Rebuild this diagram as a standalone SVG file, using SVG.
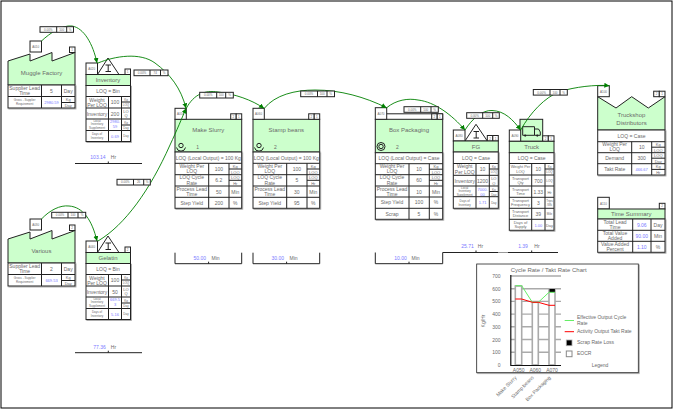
<svg xmlns="http://www.w3.org/2000/svg" width="673" height="409" viewBox="0 0 673 409">
<style>
text{font-family:"Liberation Sans",Arial,sans-serif;fill:#6a6a6a;font-size:5px;text-anchor:middle}
.n{font-size:6px}.s{font-size:4px}.x{font-size:3px}
.l{text-anchor:start}.e{text-anchor:end}
.v{fill:#7a7aff}
.b{fill:#fff;stroke:#222;stroke-width:1}
.h{fill:#ccffcc;stroke:#222;stroke-width:1}
.g{fill:none;stroke:#222;stroke-width:1}
.k{fill:none;stroke:#111;stroke-width:1.2}
.c{fill:none;stroke:#008000;stroke-width:0.9;marker-end:url(#a)}
.cn{fill:none;stroke:#008000;stroke-width:0.9}
.gr{fill:none;stroke:#aaa;stroke-width:1.4}
.bar{fill:#fff;stroke:#aaa;stroke-width:1.6}
</style>
<defs>
<marker id="a" markerUnits="userSpaceOnUse" markerWidth="6" markerHeight="6" refX="5" refY="2.5" orient="auto"><path d="M0,0 L5,2.5 L0,5 Z" fill="#008000"/></marker>
<filter id="sh" x="-5%" y="-5%" width="110%" height="110%"><feDropShadow dx="0.8" dy="0.8" stdDeviation="0" flood-color="#999"/></filter>
</defs>
<rect x="0" y="0" width="673" height="409" fill="#fff"/>
<rect x="1" y="1" width="671" height="407" fill="none" stroke="#000" stroke-width="1"/>

<g id="muggle-factory">
<polygon class="h" points="8,61 30,54 30,61 52,52.5 52,61 75,52.5 75,85 8,85"/>
<rect class="b" x="30" y="41" width="11.5" height="11"/><text class="x" x="35.7" y="47.5">A010</text>
<rect class="b" x="69.5" y="47" width="5.5" height="5.5"/><text class="x" x="72.2" y="51">1</text>
<text class="n" x="41.5" y="75">Muggle Factory</text>
<rect class="b" x="8" y="85" width="67" height="23" filter="url(#sh)"/>
<path class="g" d="M8,96.5H75M41.5,85V108M61.5,85V108M61.5,102.5H75"/>
<text x="24.7" y="90">Supplier Lead</text><text x="24.7" y="95">Time</text>
<text x="51.5" y="92.5">5</text><text x="68.2" y="92.5">Day</text>
<text class="x" x="24.7" y="100.5">Gross - Supplier</text><text class="x" x="24.7" y="104.5">Requirement</text>
<text class="s v" x="51.5" y="103.5">2980.59</text>
<text class="s" x="68.2" y="101">Kg</text><text class="s" x="68.2" y="107">Day</text>
</g>

<g id="inventory">
<polygon class="b" points="108,58 97.5,74.5 119,74.5"/>
<path d="M105.5,65H111M108.2,65V71.5M105.5,71.5H111" fill="none" stroke="#222" stroke-width="1"/>
<rect class="b" x="86" y="63" width="11.5" height="11.5"/><text class="x" x="91.7" y="70">A020</text>
<rect class="b" x="125" y="69" width="5.5" height="5.5"/><text class="x" x="127.7" y="73">1</text>
<rect class="h" x="86" y="74.5" width="44.5" height="11"/><text class="n" x="108" y="82">Inventory</text>
<rect class="b" x="86" y="85.5" width="44.5" height="56" filter="url(#sh)"/>
<path class="g" d="M86,96.5H130.5M86,108H130.5M86,119H130.5M86,130.5H130.5M108.5,96.5V141.5M121.5,96.5V141.5M121.5,102H130.5M121.5,125H130.5"/>
<text x="108" y="93">LOQ = Bin</text>
<text x="97" y="101.5">Weight</text><text x="97" y="106.5">Per LOQ</text>
<text x="115" y="104">100</text><text class="x" x="126" y="101">Kg</text><text class="x" x="126" y="106">LOQ</text>
<text x="97" y="115.5">Inventory</text><text x="115" y="115.5">200</text><text class="s" x="126" y="112.5">LO</text><text class="s" x="126" y="117">Q</text>
<text class="x" x="97" y="122">Local</text><text class="x" x="97" y="125">Inventory</text><text class="x" x="97" y="128.5">Supplement</text>
<text class="s v" x="115" y="123">2980.</text><text class="s v" x="115" y="128">59</text>
<text class="x" x="126" y="123.5">Kg</text><text class="x" x="126" y="129">Day</text>
<text class="x" x="97" y="135">Days of</text><text class="x" x="97" y="139">Inventory</text>
<text class="s v" x="115" y="137.5">0.69</text><text class="x" x="126" y="137">Day</text>
</g>

<g id="various">
<polygon class="h" points="8,239 30,232 30,239 52,230.5 52,239 75,230.5 75,263 8,263"/>
<rect class="b" x="30" y="219" width="11.5" height="11"/><text class="x" x="35.7" y="225.5">A030</text>
<rect class="b" x="69.5" y="225" width="5.5" height="5.5"/><text class="x" x="72.2" y="229">2</text>
<text class="n" x="41.5" y="253">Various</text>
<rect class="b" x="8" y="263" width="67" height="23" filter="url(#sh)"/>
<path class="g" d="M8,274.5H75M41.5,263V286M61.5,263V286M61.5,280.5H75"/>
<text x="24.7" y="268">Supplier Lead</text><text x="24.7" y="273">Time</text>
<text x="51.5" y="270.5">2</text><text x="68.2" y="270.5">Day</text>
<text class="x" x="24.7" y="278.5">Gross - Supplier</text><text class="x" x="24.7" y="282.5">Requirement</text>
<text class="s v" x="51.5" y="281.5">669.53</text>
<text class="s" x="68.2" y="279">Kg</text><text class="s" x="68.2" y="285">Day</text>
</g>

<g id="gelatin">
<polygon class="b" points="108,236 97.5,252.5 119,252.5"/>
<path d="M105.5,243H111M108.2,243V249.5M105.5,249.5H111" fill="none" stroke="#222" stroke-width="1"/>
<rect class="b" x="86" y="241" width="11.5" height="11.5"/><text class="x" x="91.7" y="248">A040</text>
<rect class="b" x="125" y="247" width="5.5" height="5.5"/><text class="x" x="127.7" y="251">2</text>
<rect class="h" x="86" y="252.5" width="44.5" height="11"/><text class="n" x="108" y="260">Gelatin</text>
<rect class="b" x="86" y="263.5" width="44.5" height="56" filter="url(#sh)"/>
<path class="g" d="M86,274.5H130.5M86,286H130.5M86,297H130.5M86,308.5H130.5M108.5,274.5V319.5M121.5,274.5V319.5M121.5,280H130.5M121.5,303H130.5"/>
<text x="108" y="271">LOQ = Bin</text>
<text x="97" y="279.5">Weight</text><text x="97" y="284.5">Per LOQ</text>
<text x="115" y="282">100</text><text class="x" x="126" y="279">Kg</text><text class="x" x="126" y="284">LOQ</text>
<text x="97" y="293.5">Inventory</text><text x="115" y="293.5">50</text><text class="s" x="126" y="290.5">LO</text><text class="s" x="126" y="295">Q</text>
<text class="x" x="97" y="300">Local</text><text class="x" x="97" y="303">Inventory</text><text class="x" x="97" y="306.5">Supplement</text>
<text class="s v" x="115" y="301">669.5</text><text class="s v" x="115" y="306">3</text>
<text class="x" x="126" y="301.5">Kg</text><text class="x" x="126" y="307">Day</text>
<text class="x" x="97" y="313">Days of</text><text class="x" x="97" y="317">Inventory</text>
<text class="s v" x="115" y="315.5">5.16</text><text class="x" x="126" y="315">Day</text>
</g>

<g id="make-slurry">
<rect class="h" x="175" y="119.3" width="66.7" height="32.7"/>
<rect class="b" x="175" y="108.3" width="11.3" height="11"/><text class="x" x="180.6" y="115">A050</text>
<rect class="b" x="230.7" y="113.8" width="5.5" height="5.5"/><text class="x" x="233.4" y="117.8">2</text>
<rect class="b" x="236.2" y="113.8" width="5.5" height="5.5"/><text class="x" x="238.9" y="117.8">1</text>
<text class="n" x="208.3" y="132">Make Slurry</text>
<circle class="g" cx="181" cy="145.5" r="2.2"/><path class="g" d="M176.5,147.5A4.6,4.6 0 0 0 185.5,147.5"/>
<text x="197.7" y="149">1</text>
<rect class="b" x="175" y="152" width="66.7" height="56.3" filter="url(#sh)"/>
<path class="g" d="M175,163.3H241.7M175,174.7H241.7M175,186H241.7M175,197.3H241.7M208.7,163.3V208.3M229,163.3V208.3M229,169H241.7M229,180.3H241.7"/>
<text x="208.3" y="159.5">LOQ (Local Output) = 100 Kg</text>
<text x="191.8" y="168">Weight Per</text><text x="191.8" y="173.2">LOQ</text><text x="218.8" y="170.8">100</text><text class="s" x="235.3" y="168">Kg</text><text class="s" x="235.3" y="173.5">LOQ</text>
<text x="191.8" y="179.4">LOQ Cycle</text><text x="191.8" y="184.6">Rate</text><text x="218.8" y="182.2">6.2</text><text class="s" x="235.3" y="179">LOQ</text><text class="s" x="235.3" y="185">Hr</text>
<text x="191.8" y="190.7">Process Lead</text><text x="191.8" y="195.9">Time</text><text x="218.8" y="193.5">50</text><text x="235.3" y="193.5">Min</text>
<text x="191.8" y="204.7">Step Yield</text><text x="218.8" y="204.7">200</text><text x="235.3" y="204.7">%</text>
</g>

<g id="stamp-beans">
<rect class="h" x="253" y="119.3" width="66.7" height="32.7"/>
<rect class="b" x="253" y="108.3" width="11.3" height="11"/><text class="x" x="258.6" y="115">A060</text>
<rect class="b" x="308.7" y="113.8" width="5.5" height="5.5"/><text class="x" x="311.4" y="117.8">2</text>
<rect class="b" x="314.2" y="113.8" width="5.5" height="5.5"/><text class="x" x="316.9" y="117.8">1</text>
<text class="n" x="286.3" y="132">Stamp beans</text>
<circle class="g" cx="259" cy="145.5" r="2.2"/><path class="g" d="M254.5,147.5A4.6,4.6 0 0 0 263.5,147.5"/>
<text x="275.5" y="149">2</text>
<rect class="b" x="253" y="152" width="66.7" height="56.3" filter="url(#sh)"/>
<path class="g" d="M253,163.3H319.7M253,174.7H319.7M253,186H319.7M253,197.3H319.7M286.7,163.3V208.3M307,163.3V208.3M307,169H319.7M307,180.3H319.7"/>
<text x="286.3" y="159.5">LOQ (Local Output) = 100 Kg</text>
<text x="269.8" y="168">Weight Per</text><text x="269.8" y="173.2">LOQ</text><text x="296.8" y="170.8">100</text><text class="s" x="313.3" y="168">Kg</text><text class="s" x="313.3" y="173.5">LOQ</text>
<text x="269.8" y="179.4">LOQ Cycle</text><text x="269.8" y="184.6">Rate</text><text x="296.8" y="182.2">5</text><text class="s" x="313.3" y="179">LOQ</text><text class="s" x="313.3" y="185">Hr</text>
<text x="269.8" y="190.7">Process Lead</text><text x="269.8" y="195.9">Time</text><text x="296.8" y="193.5">30</text><text x="313.3" y="193.5">Min</text>
<text x="269.8" y="204.7">Step Yield</text><text x="296.8" y="204.7">95</text><text x="313.3" y="204.7">%</text>
</g>

<g id="box-packaging">
<path class="g" d="M386.7,113.8H442.7V119.3"/>
<rect class="h" x="375.3" y="119.3" width="67.4" height="33.4"/>
<rect class="b" x="375.3" y="107.7" width="11.4" height="11.6"/><text class="x" x="381" y="114.7">A070</text>
<rect class="b" x="431.7" y="113.8" width="5.5" height="5.5"/><text class="x" x="434.4" y="117.8">2</text>
<rect class="b" x="437.2" y="113.8" width="5.5" height="5.5"/><text class="x" x="439.9" y="117.8">1</text>
<text class="n" x="409" y="131.5">Box Packaging</text>
<circle class="g" cx="381" cy="146.5" r="2.2"/><circle class="g" cx="381" cy="146.5" r="4"/>
<text x="397.5" y="149">2</text>
<rect class="b" x="375.3" y="152.7" width="67.4" height="66.6" filter="url(#sh)"/>
<path class="g" d="M375.3,163.7H442.7M375.3,174.7H442.7M375.3,186H442.7M375.3,197H442.7M375.3,208.3H442.7M409,163.7V219.3M429.3,163.7V219.3M429.3,169.2H442.7M429.3,180.3H442.7"/>
<text x="409" y="159.8">LOQ (Local Output) = Case</text>
<text x="392" y="168">Weight Per</text><text x="392" y="173.2">LOQ</text><text x="419" y="170.8">10</text><text class="s" x="436" y="168">Kg</text><text class="s" x="436" y="173.5">LOQ</text>
<text x="392" y="179.4">LOQ Cycle</text><text x="392" y="184.6">Rate</text><text x="419" y="182.2">60</text><text class="s" x="436" y="179">LOQ</text><text class="s" x="436" y="185">Hr</text>
<text x="392" y="190.7">Process Lead</text><text x="392" y="195.9">Time</text><text x="419" y="193.5">10</text><text x="436" y="193.5">Min</text>
<text x="392" y="204">Step Yield</text><text x="419" y="204">100</text><text x="436" y="204">%</text>
<text x="392" y="215.5">Scrap</text><text x="419" y="215.5">5</text><text x="436" y="215.5">%</text>
</g>

<g id="fg">
<polygon class="b" points="476,124.3 465,141 487.3,141"/>
<path d="M473.5,131.5H479M476.2,131.5V138M473.5,138H479" fill="none" stroke="#222" stroke-width="1"/>
<rect class="b" x="453.3" y="130" width="11.7" height="11"/><text class="x" x="459.1" y="137">A080</text>
<rect class="b" x="487.3" y="135.5" width="5.5" height="5.5"/><text class="x" x="490" y="139.5">2</text>
<rect class="b" x="492.8" y="135.5" width="5.5" height="5.5"/><text class="x" x="495.5" y="139.5">1</text>
<rect class="h" x="453.3" y="141" width="45" height="11"/><text class="n" x="476" y="148.5">FG</text>
<rect class="b" x="453.3" y="152" width="45" height="56.3" filter="url(#sh)"/>
<path class="g" d="M453.3,163.5H498.3M453.3,175.3H498.3M453.3,186H498.3M453.3,196.7H498.3M476,163.5V208.3M489.3,163.5V208.3M489.3,169H498.3M489.3,191.5H498.3"/>
<text x="476" y="159.5">LOQ = Case</text>
<text x="464.7" y="168.3">Weight</text><text x="464.7" y="173.5">Per LOQ</text><text x="482.6" y="171">10</text><text class="x" x="493.8" y="168">Kg</text><text class="x" x="493.8" y="173">LOQ</text>
<text x="464.7" y="182.5">Inventory</text><text x="482.6" y="182.5">1200</text><text class="s" x="493.8" y="179.5">LO</text><text class="s" x="493.8" y="184.5">Q</text>
<text class="x" x="464.7" y="189">Local</text><text class="x" x="464.7" y="192">Inventory</text><text class="x" x="464.7" y="195.5">Supplement</text>
<text class="s v" x="482.6" y="190.5">7000.</text><text class="s v" x="482.6" y="195.5">00</text>
<text class="x" x="493.8" y="190.5">Kg</text><text class="x" x="493.8" y="196">Day</text>
<text class="x" x="464.7" y="201.5">Days of</text><text class="x" x="464.7" y="205.5">Inventory</text>
<text class="s v" x="482.6" y="204">1.71</text><text class="x" x="493.8" y="204">Day</text>
</g>

<g id="truck">
<rect class="h" x="520" y="119.3" width="22.7" height="22"/>
<path d="M522.7,126.7H534.5V135.3H522.7ZM534.5,129H538.5L540.3,132V135.3H534.5" fill="none" stroke="#222" stroke-width="1"/>
<circle cx="525.2" cy="135.6" r="1.1" fill="#222"/><circle cx="537.3" cy="135.6" r="1.1" fill="#222"/>
<rect class="b" x="509.3" y="130" width="11.4" height="11.3"/><text class="x" x="515" y="137">A090</text>
<rect class="b" x="542.7" y="135.8" width="5.6" height="5.5"/><text class="x" x="545.5" y="139.8">2</text>
<rect class="b" x="548.3" y="135.8" width="5.7" height="5.5"/><text class="x" x="551.1" y="139.8">1</text>
<rect class="h" x="509.3" y="141.3" width="44.7" height="11.4"/><text class="n" x="531.7" y="149">Truck</text>
<rect class="b" x="509.3" y="152.7" width="44.7" height="77.6" filter="url(#sh)"/>
<path class="g" d="M509.3,163.5H554M509.3,175H554M509.3,186H554M509.3,197.3H554M509.3,208.3H554M509.3,219.3H554M531.7,163.5V230.3M545,163.5V230.3M545,169H554"/>
<text x="531.7" y="160">LOQ = Case</text>
<text class="s" x="520.5" y="168">Weight Per</text><text class="s" x="520.5" y="172.5">LOQ</text><text x="538.3" y="171">10</text><text class="x" x="549.5" y="168">Kg</text><text class="x" x="549.5" y="173">LOQ</text>
<text class="s" x="520.5" y="179.5">Transport</text><text class="s" x="520.5" y="184">Qty</text><text x="538.3" y="182.5">700</text><text class="x" x="549.5" y="182">LOQ</text>
<text class="s" x="520.5" y="190.5">Transport</text><text class="s" x="520.5" y="195">Time</text><text x="538.3" y="193.5">1.33</text><text class="s" x="549.5" y="193.5">Hr</text>
<text class="s" x="520.5" y="201.5">Transport</text><text class="s" x="520.5" y="206">Frequency</text><text x="538.3" y="204.5">3</text><text class="x" x="549.5" y="202">Trips</text><text class="x" x="549.5" y="206">/Wk</text>
<text class="s" x="520.5" y="212.5">Transport</text><text class="s" x="520.5" y="217">Distance</text><text x="538.3" y="215.5">39</text><text class="x" x="549.5" y="215">Mile</text>
<text class="s" x="520.5" y="223.5">Days of</text><text class="s" x="520.5" y="228">Supply</text><text class="s v" x="538.3" y="226.5">1.00</text><text class="s" x="549.5" y="226.5">Day</text>
</g>

<g id="truckshop-distributors">
<polygon class="h" points="597.7,96.7 616,108 631.7,96.7 648.3,108 665,96.7 665,130 597.7,130"/>
<rect class="b" x="597.7" y="85.7" width="11.6" height="11"/><text class="x" x="603.5" y="92.5">A100</text>
<rect class="b" x="653.7" y="91.2" width="5.6" height="5.5"/><text class="x" x="656.5" y="95.2">2</text>
<rect class="b" x="659.3" y="91.2" width="5.7" height="5.5"/><text class="x" x="662.1" y="95.2">1</text>
<text class="n" x="631.5" y="116.5">Truckshop</text><text class="n" x="631.5" y="124.5">Distributors</text>
<rect class="b" x="597.7" y="130" width="67.3" height="45" filter="url(#sh)"/>
<path class="g" d="M597.7,141.7H665M597.7,152.7H665M597.7,163.7H665M631.7,141.7V175M651.7,141.7V175M651.7,147.2H665M651.7,158.2H665M651.7,169.4H665"/>
<text x="631.5" y="137.5">LOQ = Case</text>
<text x="614.7" y="146.2">Weight Per</text><text x="614.7" y="151.4">LOQ</text><text x="641.7" y="149">10</text><text class="s" x="658.3" y="146">Kg</text><text class="s" x="658.3" y="151.5">LOQ</text>
<text x="614.7" y="159.8">Demand</text><text x="641.7" y="159.8">300</text><text class="s" x="658.3" y="157">LOQ</text><text class="s" x="658.3" y="162.5">Day</text>
<text x="614.7" y="171">Takt Rate</text><text class="s v" x="641.7" y="170.8">466.67</text><text class="s" x="658.3" y="168">Kg</text><text class="s" x="658.3" y="173.8">Hr</text>
</g>

<g id="time-summary">
<rect class="b" x="597.7" y="197.3" width="11.6" height="11.7"/><text class="x" x="603.5" y="204.5">A110</text>
<rect class="b" x="659.3" y="203.3" width="5.7" height="5.7"/><text class="x" x="662.1" y="207.3">2</text>
<rect class="h" x="597.7" y="209" width="67.3" height="10"/><text class="n" x="631.3" y="216">Time Summary</text>
<rect class="b" x="597.7" y="219" width="67.3" height="33.3" filter="url(#sh)"/>
<path class="g" d="M597.7,230.3H665M597.7,241.3H665M632.7,219V252.3M651,219V252.3"/>
<text x="615" y="223.5">Total Lead</text><text x="615" y="228.7">Time</text><text class="v" x="641.8" y="226.5">9.06</text><text x="658" y="226.5">Day</text>
<text x="615" y="234.8">Total Value</text><text x="615" y="240">Added</text><text class="v" x="641.8" y="237.6">90.00</text><text x="658" y="237.6">Min</text>
<text x="615" y="245.8">Value Added</text><text x="615" y="251">Percent</text><text class="v" x="641.8" y="248.6">1.10</text><text x="658" y="248.6">%</text>
</g>

<g id="timelines">
<path class="g" d="M75,163.5H142M108.3,161.5V163.5"/>
<text class="v" x="98" y="159">103.14</text><text x="113.5" y="159">Hr</text>
<path class="g" d="M75,352.7H142M108.3,350.7V352.7"/>
<text class="v" x="99.5" y="348.5">77.36</text><text x="113.5" y="348.5">Hr</text>
<path class="g" d="M175,252.7V263.7H241.7V252.7M208.6,261.7V263.7"/>
<text class="v" x="199.7" y="260">50.00</text><text x="215.5" y="260">Min</text>
<path class="g" d="M253,252.7V263.7H319.7V252.7M286.6,261.7V263.7"/>
<text class="v" x="277.7" y="260">30.00</text><text x="293.5" y="260">Min</text>
<path class="g" d="M375.3,252.5V263.7H442.7V252.5H498M508,252.5H558M409,261.7V263.7M476,250.5V252.5M531.7,250.5V252.5"/>
<path d="M498,252.5H508" stroke="#999" stroke-width="1"/>
<text class="v" x="400.5" y="260">10.00</text><text x="415.5" y="260">Min</text>
<text class="v" x="467.5" y="248">25.71</text><text x="480.5" y="248">Hr</text>
<text class="v" x="523" y="248">1.39</text><text x="537" y="248">Hr</text>
</g>

<g id="connectors">
<path class="cn" d="M41.5,41C50,33 62,25 72,26"/>
<path class="c" d="M72,26C84,28 93,44 97,63"/>
<path class="c" d="M41.5,219C50,210 60,205 69,206C83,207 92,220 97,241"/>
<path class="c" d="M98,63C115,56 140,52 155,63C170,74 181,88 186,108.3"/>
<path class="c" d="M98,241C125,225 150,190 170,145C177,130 182,118 186,108.3"/>
<path class="c" d="M186.3,108.3C194,94 205,90 218,92C235,94 252,100 264,108.3"/>
<path class="c" d="M264.3,108.3C275,95 295,90 315,90C340,90 365,97 386.5,107.7"/>
<path class="c" d="M386.7,107.7C396,100 408,98 418,100C435,102 452,115 465,130"/>
<path class="c" d="M465,130C472,119 482,110 492,110.5C505,111 513,120 520.7,130"/>
<path class="c" d="M520.7,130C530,113 545,97 560,91.5C575,87 595,84.5 609.3,85.7"/>
</g>

<g id="labels">
<g id="label-a010"><rect class="b" x="40" y="26.7" width="33.5" height="5.6"/><path class="g" d="M56.7,26.7V32.3M66.7,26.7V32.3"/><text class="x" x="48.3" y="30.8">0.00%</text><text class="x" x="61.7" y="30.8">100</text><text class="x" x="70" y="30.8">%</text></g>
<g id="label-a020"><rect class="b" x="134" y="70" width="34" height="5.7"/><path class="g" d="M150,70V75.7M160.5,70V75.7"/><text class="x" x="142" y="74">0.00%</text><text class="x" x="155.2" y="74">74</text><text class="x" x="164.2" y="74">%</text></g>
<g id="label-a030"><rect class="b" x="51.7" y="212.3" width="34" height="5.6"/><path class="g" d="M68,212.3V217.9M78,212.3V217.9"/><text class="x" x="60" y="216.4">0.00%</text><text class="x" x="73" y="216.4">100</text><text class="x" x="82" y="216.4">%</text></g>
<g id="label-a040"><rect class="b" x="117" y="179.3" width="33.3" height="5.7"/><path class="g" d="M133.5,179.3V185M143.7,179.3V185"/><text class="x" x="125.3" y="183.3">0.00%</text><text class="x" x="138.6" y="183.3">26</text><text class="x" x="147" y="183.3">%</text></g>
<g id="label-a050"><rect class="b" x="199.7" y="92.3" width="33.6" height="5.7"/><path class="g" d="M216.7,92.3V98M225.7,92.3V98"/><text class="x" x="208.2" y="96.4">0.00%</text><text class="x" x="221.2" y="96.4">100</text><text class="x" x="229.5" y="96.4">%</text></g>
<g id="label-a060"><rect class="b" x="300.7" y="91" width="33.8" height="5.7"/><path class="g" d="M317.5,91V96.7M327,91V96.7"/><text class="x" x="309" y="95.1">0.00%</text><text class="x" x="322.2" y="95.1">100</text><text class="x" x="330.7" y="95.1">%</text></g>
<g id="label-a070"><rect class="b" x="404" y="106.7" width="34.3" height="5.6"/><path class="g" d="M420.7,106.7V112.3M431,106.7V112.3"/><text class="x" x="412.3" y="110.8">0.00%</text><text class="x" x="425.8" y="110.8">100</text><text class="x" x="434.6" y="110.8">%</text></g>
<g id="label-a080"><rect class="b" x="466.7" y="112.7" width="32.6" height="5.6"/><path class="g" d="M482.7,112.7V118.3M492.7,112.7V118.3"/><text class="x" x="474.7" y="116.8">0.00%</text><text class="x" x="487.7" y="116.8">100</text><text class="x" x="496" y="116.8">%</text></g>
<g id="label-a090"><rect class="b" x="533.3" y="89.5" width="34" height="5.6"/><path class="g" d="M550,89.5V95.1M560,89.5V95.1"/><text class="x" x="541.6" y="93.6">0.00%</text><text class="x" x="555" y="93.6">100</text><text class="x" x="563.6" y="93.6">%</text></g>
</g>

<g id="chart">
<rect x="476.7" y="264" width="161.6" height="108.7" fill="#fff" stroke="#222" stroke-width="0.8" filter="url(#sh)"/>
<text class="n" x="548.7" y="272">Cycle Rate / Takt Rate Chart</text>
<path class="gr" d="M511,276H561M511,288.7H561M511,301.4H561M511,314.1H561M511,326.8H561M511,339.5H561M511,352.2H561"/>
<rect class="bar" x="515.3" y="286" width="6.4" height="79"/>
<rect class="bar" x="532.3" y="302.3" width="6" height="62.7"/>
<rect class="bar" x="549" y="289.3" width="6" height="75.7"/>
<rect x="549.5" y="289" width="5.4" height="3.3" fill="#000"/>
<path class="k" d="M510.8,275V365.5H561"/>
<path d="M515.3,285.7H521.7L532.3,302.3H538.3L549,292.3H555" fill="none" stroke="#66ee66" stroke-width="1"/>
<path d="M515.3,299H521.7L532.3,302.3H538.3L549,305.3H555" fill="none" stroke="#f00" stroke-width="1"/>
<text class="e" x="500.5" y="278">700</text><text class="e" x="500.5" y="290.7">600</text><text class="e" x="500.5" y="303.4">500</text><text class="e" x="500.5" y="316.1">400</text><text class="e" x="500.5" y="328.8">300</text><text class="e" x="500.5" y="341.5">200</text><text class="e" x="500.5" y="354.2">100</text><text class="e" x="500.5" y="366.9">0</text>
<text transform="translate(485,321) rotate(-90)">Kg/Hr</text>
<text x="518.7" y="371.5">A050</text><text x="535.3" y="371.5">A060</text><text x="552" y="371.5">A070</text>
<text class="e" transform="translate(517,378) rotate(-45)">Make Slurry</text>
<text class="e" transform="translate(534,378) rotate(-45)">Stamp beans</text>
<text class="e" transform="translate(551,378) rotate(-45)">Box Packaging</text>
<path d="M564.7,320.5H574" stroke="#66ee66" stroke-width="1"/>
<path d="M564.7,331.7H574" stroke="#f00" stroke-width="1"/>
<rect x="566.3" y="340" width="5.7" height="5.7" fill="#000" stroke="#aaa" stroke-width="0.8"/>
<rect x="566.3" y="351" width="5.7" height="5.7" fill="#fff" stroke="#888" stroke-width="1"/>
<text class="l" x="577" y="319">Effective Output Cycle</text><text class="l" x="577" y="325">Rate</text>
<text class="l" x="577" y="333">Activity Output Takt Rate</text>
<text class="l" x="577" y="344">Scrap Rate Loss</text>
<text class="l" x="577" y="355">EOCR</text>
<text x="600" y="367">Legend</text>
</g>
</svg>
